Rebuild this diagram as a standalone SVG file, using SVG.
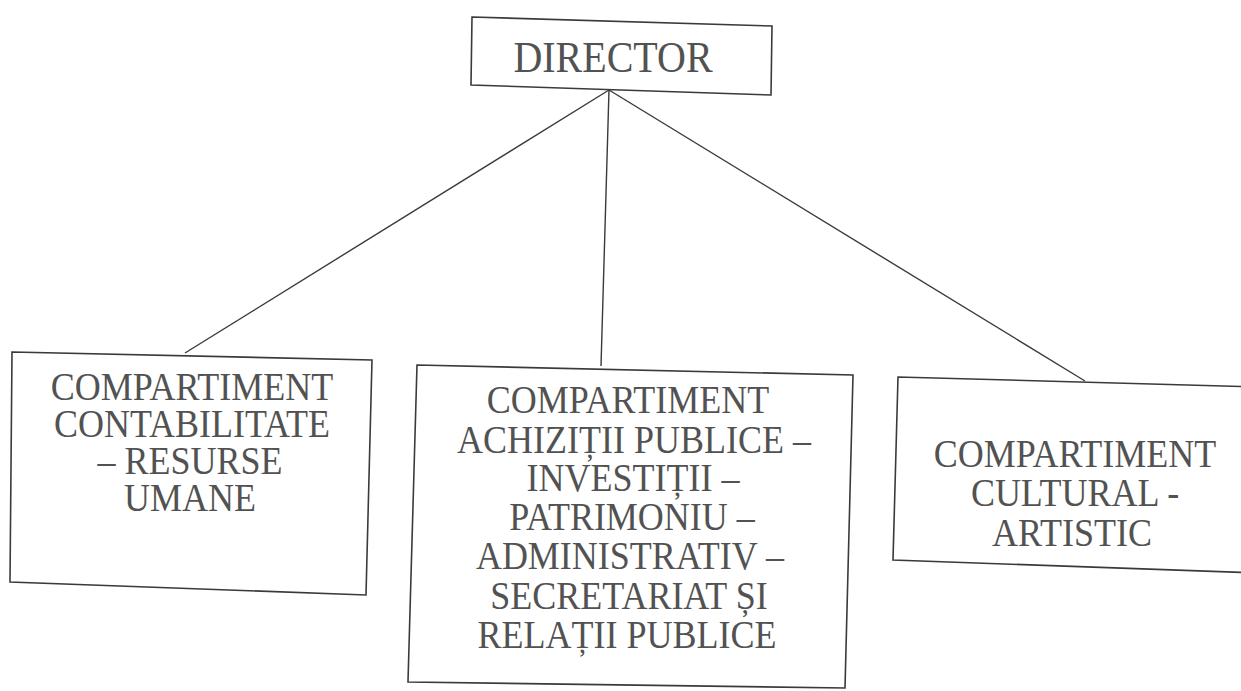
<svg xmlns="http://www.w3.org/2000/svg" width="1241" height="691" viewBox="0 0 1241 691">
<style>
.box{fill:none;stroke:#3a3a3a;stroke-width:1.6;stroke-linejoin:miter}
.ln{stroke:#3a3a3a;stroke-width:1.4;fill:none}
.t{font-family:"Liberation Serif","Times New Roman",serif;font-size:36px;fill:#525252;text-anchor:middle}
.d{font-size:40px}
</style>
<rect width="1241" height="691" fill="#ffffff"/>
<g id="connectors">
<line class="ln" x1="609" y1="90" x2="185" y2="353"/>
<line class="ln" x1="609" y1="90" x2="601" y2="366"/>
<line class="ln" x1="609" y1="90" x2="1085" y2="381"/>
</g>
<g id="director">
<polygon class="box" points="472,17 772,26 771,95 471,85"/>
<text class="t d" transform="translate(613,72) scale(1,1.12)">DIRECTOR</text>
</g>
<g id="contabilitate">
<polygon class="box" points="12,352 372,360 366,595 10,582"/>
<text class="t" transform="translate(192,400) scale(1,1.1)">COMPARTIMENT</text>
<text class="t" transform="translate(192,437) scale(1,1.1)">CONTABILITATE</text>
<text class="t" transform="translate(190,474) scale(1,1.1)">– RESURSE</text>
<text class="t" transform="translate(190,511) scale(1,1.1)">UMANE</text>
</g>
<g id="achizitii">
<polygon class="box" points="417,365 853,375 845,688 408,682"/>
<text class="t" transform="translate(628,413) scale(1,1.1)">COMPARTIMENT</text>
<text class="t" transform="translate(634,453) scale(1,1.1)">ACHIZIȚII PUBLICE –</text>
<text class="t" transform="translate(633,491) scale(1,1.1)">INVESTIȚII –</text>
<text class="t" transform="translate(632,530) scale(1,1.1)">PATRIMONIU –</text>
<text class="t" transform="translate(630,569) scale(1,1.1)">ADMINISTRATIV –</text>
<text class="t" transform="translate(629,609) scale(1,1.1)">SECRETARIAT ȘI</text>
<text class="t" transform="translate(627,648) scale(1,1.1)">RELAȚII PUBLICE</text>
</g>
<g id="cultural">
<polygon class="box" points="1260,387 898,377 893,560 1260,573"/>
<text class="t" transform="translate(1075,467) scale(1,1.1)">COMPARTIMENT</text>
<text class="t" transform="translate(1075,506) scale(1,1.1)">CULTURAL -</text>
<text class="t" transform="translate(1072,546) scale(1,1.1)">ARTISTIC</text>
</g>
</svg>
